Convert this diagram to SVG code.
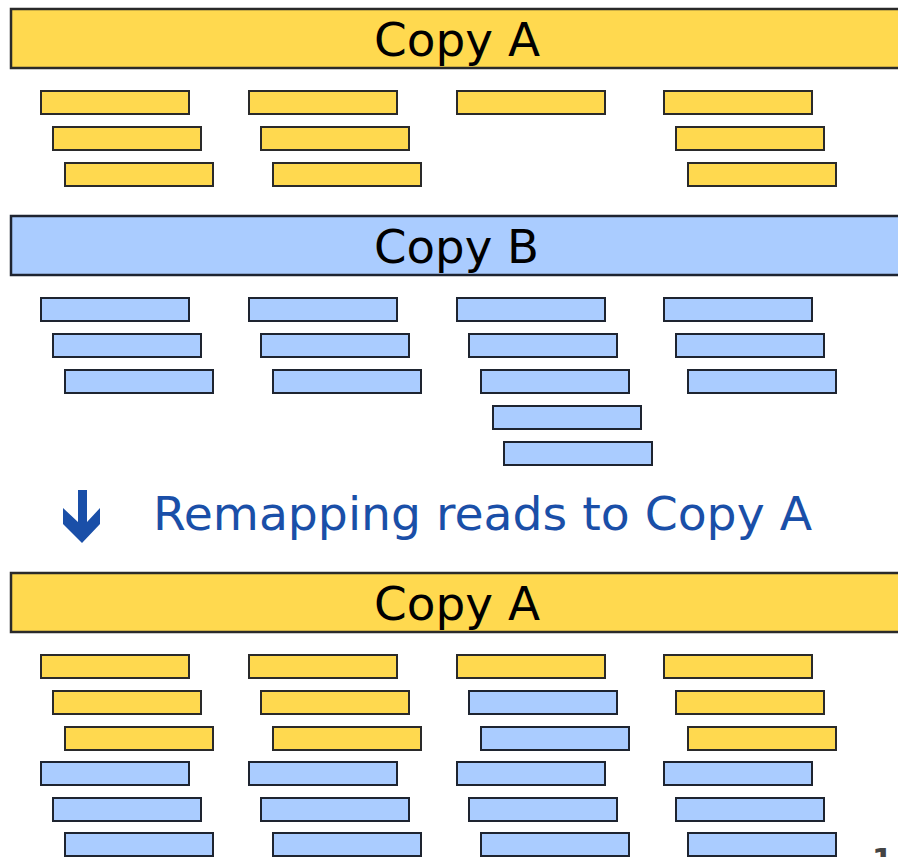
<svg xmlns="http://www.w3.org/2000/svg" width="898" height="857" viewBox="0 0 898 857">
<defs>
<style>
.y{fill:#ffd94f;stroke:#2a2a2a;stroke-width:2}
.b{fill:#aaccff;stroke:#1e2430;stroke-width:2}
.ref{stroke-width:2.5}
.lbl{font-family:"DejaVu Sans",sans-serif;font-size:46px;fill:#000}
.note{font-family:"DejaVu Sans",sans-serif;font-size:46px;fill:#1a4fa8}
</style>
</defs>
<rect width="898" height="857" fill="#fff"/>
<g id="copyA1">
<rect class="y ref" x="11" y="9" width="900" height="59"/>
<text class="lbl" x="374" y="56" textLength="166" lengthAdjust="spacingAndGlyphs">Copy A</text>
</g>
<g id="readsA1">
<rect class="y" x="41" y="91" width="148" height="23"/>
<rect class="y" x="53" y="127" width="148" height="23"/>
<rect class="y" x="65" y="163" width="148" height="23"/>
<rect class="y" x="249" y="91" width="148" height="23"/>
<rect class="y" x="261" y="127" width="148" height="23"/>
<rect class="y" x="273" y="163" width="148" height="23"/>
<rect class="y" x="457" y="91" width="148" height="23"/>
<rect class="y" x="664" y="91" width="148" height="23"/>
<rect class="y" x="676" y="127" width="148" height="23"/>
<rect class="y" x="688" y="163" width="148" height="23"/>
</g>
<g id="copyB">
<rect class="b ref" x="11" y="216" width="900" height="59"/>
<text class="lbl" x="374" y="263" textLength="165" lengthAdjust="spacingAndGlyphs">Copy B</text>
</g>
<g id="readsB">
<rect class="b" x="41" y="298" width="148" height="23"/>
<rect class="b" x="53" y="334" width="148" height="23"/>
<rect class="b" x="65" y="370" width="148" height="23"/>
<rect class="b" x="249" y="298" width="148" height="23"/>
<rect class="b" x="261" y="334" width="148" height="23"/>
<rect class="b" x="273" y="370" width="148" height="23"/>
<rect class="b" x="457" y="298" width="148" height="23"/>
<rect class="b" x="469" y="334" width="148" height="23"/>
<rect class="b" x="481" y="370" width="148" height="23"/>
<rect class="b" x="493" y="406" width="148" height="23"/>
<rect class="b" x="504" y="442" width="148" height="23"/>
<rect class="b" x="664" y="298" width="148" height="23"/>
<rect class="b" x="676" y="334" width="148" height="23"/>
<rect class="b" x="688" y="370" width="148" height="23"/>
</g>
<g id="remap">
<path d="M78 490 H87 V522 L100 508 V524 L82 543 L63 524 V508 L78 522 Z" fill="#1a4fa8"/>
<text class="note" x="153" y="530" textLength="659" lengthAdjust="spacingAndGlyphs">Remapping reads to Copy A</text>
</g>
<g id="copyA2">
<rect class="y ref" x="11" y="573" width="900" height="59"/>
<text class="lbl" x="374" y="620" textLength="166" lengthAdjust="spacingAndGlyphs">Copy A</text>
</g>
<g id="readsA2">
<rect class="y" x="41" y="655" width="148" height="23"/>
<rect class="y" x="53" y="691" width="148" height="23"/>
<rect class="y" x="65" y="727" width="148" height="23"/>
<rect class="b" x="41" y="762" width="148" height="23"/>
<rect class="b" x="53" y="798" width="148" height="23"/>
<rect class="b" x="65" y="833" width="148" height="23"/>
<rect class="y" x="249" y="655" width="148" height="23"/>
<rect class="y" x="261" y="691" width="148" height="23"/>
<rect class="y" x="273" y="727" width="148" height="23"/>
<rect class="b" x="249" y="762" width="148" height="23"/>
<rect class="b" x="261" y="798" width="148" height="23"/>
<rect class="b" x="273" y="833" width="148" height="23"/>
<rect class="y" x="457" y="655" width="148" height="23"/>
<rect class="b" x="469" y="691" width="148" height="23"/>
<rect class="b" x="481" y="727" width="148" height="23"/>
<rect class="b" x="457" y="762" width="148" height="23"/>
<rect class="b" x="469" y="798" width="148" height="23"/>
<rect class="b" x="481" y="833" width="148" height="23"/>
<rect class="y" x="664" y="655" width="148" height="23"/>
<rect class="y" x="676" y="691" width="148" height="23"/>
<rect class="y" x="688" y="727" width="148" height="23"/>
<rect class="b" x="664" y="762" width="148" height="23"/>
<rect class="b" x="676" y="798" width="148" height="23"/>
<rect class="b" x="688" y="833" width="148" height="23"/>
</g>
<text x="872" y="870" font-family="DejaVu Sans,sans-serif" font-size="30" font-weight="bold" fill="#444">1</text>
</svg>
